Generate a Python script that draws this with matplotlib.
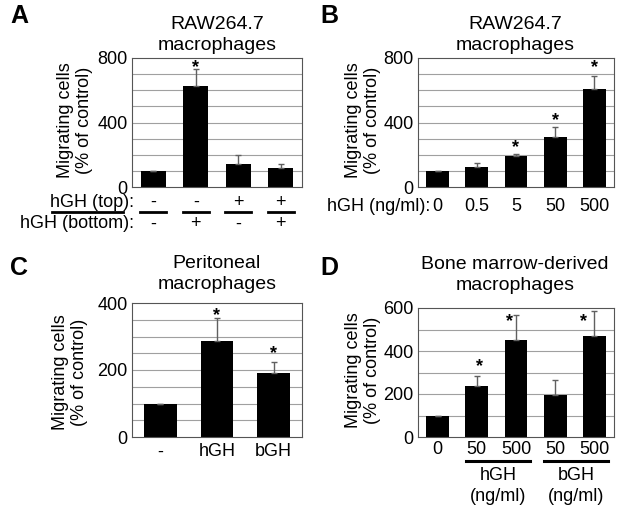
import numpy as np
import matplotlib
matplotlib.use('Agg')
import matplotlib.pyplot as plt
from matplotlib.transforms import blended_transform_factory

plt.rcParams['font.family'] = ['Liberation Sans', 'DejaVu Sans']

# A: RAW264.7, hGH top / bottom chamber
a_mean = [100, 625, 140, 120]
a_err = [0, 105, 60, 25]
a_star = [False, True, False, False]
a_top = ['-', '-', '+', '+']
a_bottom = ['-', '+', '-', '+']

# B: RAW264.7 dose response
b_dose = ['0', '0.5', '5', '50', '500']
b_mean = [100, 125, 195, 310, 605]
b_err = [0, 25, 10, 60, 85]
b_star = [False, False, True, True, True]

# C: peritoneal macrophages
c_labels = ['-', 'hGH', 'bGH']
c_mean = [100, 288, 190]
c_err = [0, 67, 34]
c_star = [False, True, True]

# D: bone marrow-derived macrophages
d_dose = ['0', '50', '500', '50', '500']
d_mean = [100, 235, 450, 195, 470]
d_err = [0, 50, 117, 70, 116]
d_star = [False, True, True, False, True]
d_groups = ['hGH\n(ng/ml)', 'bGH\n(ng/ml)']

W, H = 624, 517
fig = plt.figure(figsize=(W / 100, H / 100), dpi=100)


def fy(ypx):
    return 1 - ypx / H


def box(l, t, r, b):
    return fig.add_axes([l / W, 1 - b / H, (r - l) / W, (b - t) / H])


def panel(ax, mean, err, stars, ymax, step, ticks, star_dx=None, star_dy=None):
    n = len(mean)
    x = np.arange(n)
    for g in np.arange(step, ymax, step):
        ax.axhline(g, color='#a0a0a0', lw=0.8, zorder=0)
    ax.bar(x, mean, width=0.58, color='black', zorder=2)
    ax.errorbar(x, mean, yerr=[np.zeros(n), err], fmt='none', ecolor='#606060',
                elinewidth=1, capsize=2, capthick=1, zorder=3)
    for i in range(n):
        if stars[i]:
            dx = star_dx[i] if star_dx else 0
            dy = star_dy[i] if star_dy else 4
            ax.annotate('*', (x[i], mean[i] + err[i]), xytext=(dx, dy),
                        textcoords='offset points', ha='center', va='center',
                        fontsize=13, fontweight='bold')
    ax.set_xlim(-0.5, n - 0.5)
    ax.set_ylim(0, ymax)
    ax.set_yticks(ticks)
    ax.set_xticks([])
    ax.tick_params(axis='y', length=0, pad=3, labelsize=13)
    for s in ax.spines.values():
        s.set_color('#555555')
        s.set_linewidth(0.8)
    return blended_transform_factory(ax.transData, fig.transFigure)


def ylab(xpx, ypx):
    fig.text(xpx / W, fy(ypx), 'Migrating cells\n(% of control)', rotation=90,
             ha='center', va='center', fontsize=13)


def title(xpx, ypx, s):
    fig.text(xpx / W, fy(ypx), s, ha='center', va='center', fontsize=14,
             linespacing=1.25)


def letter(xpx, ypx, s):
    fig.text(xpx / W, fy(ypx), s, ha='left', va='center', fontsize=18,
             fontweight='bold')


# Panel A
axA = box(132, 58, 302, 187)
tr = panel(axA, a_mean, a_err, a_star, 800, 100, [0, 400, 800],
           star_dy=[0, 1.5, 0, 0])
for i in range(len(a_mean)):
    axA.text(i, fy(202), a_top[i], transform=tr, ha='center', va='center', fontsize=13)
    axA.text(i, fy(224), a_bottom[i], transform=tr, ha='center', va='center', fontsize=13)
    axA.plot([i - 0.31, i + 0.31], [fy(212), fy(212)], transform=tr, color='black',
             lw=2, clip_on=False)
axA.plot([-2.38, -0.71], [fy(212), fy(212)], transform=tr, color='black', lw=2,
         clip_on=False)
axA.text(-0.46, fy(202), 'hGH (top):', transform=tr, ha='right', va='center', fontsize=13)
axA.text(-0.46, fy(224), 'hGH (bottom):', transform=tr, ha='right', va='center', fontsize=13)
ylab(75, 120)
title(217, 35, 'RAW264.7\nmacrophages')
letter(10, 16, 'A')

# Panel B
axB = box(418, 58, 614, 187)
tr = panel(axB, b_mean, b_err, b_star, 800, 100, [0, 400, 800],
           star_dy=[0, 0, 4.5, 5, 6])
for i in range(len(b_mean)):
    axB.text(i, fy(207), b_dose[i], transform=tr, ha='center', va='center', fontsize=13)
axB.text(-0.2, fy(207), 'hGH (ng/ml):', transform=tr, ha='right', va='center', fontsize=13)
ylab(363, 120)
title(515, 35, 'RAW264.7\nmacrophages')
letter(320, 16, 'B')

# Panel C
axC = box(132, 303, 302, 437)
tr = panel(axC, c_mean, c_err, c_star, 400, 50, [0, 200, 400],
           star_dy=[0, 1.5, 6])
for i in range(len(c_mean)):
    axC.text(i, fy(452), c_labels[i], transform=tr, ha='center', va='center', fontsize=13)
ylab(70, 372)
title(217, 274, 'Peritoneal\nmacrophages')
letter(10, 268, 'C')

# Panel D
axD = box(418, 308, 614, 437)
tr = panel(axD, d_mean, d_err, d_star, 600, 100, [0, 200, 400, 600],
           star_dx=[0, 2, -5, 0, -8], star_dy=[0, 6.5, -4.5, 0, -7.5])
for i in range(len(d_mean)):
    axD.text(i, fy(450), d_dose[i], transform=tr, ha='center', va='center', fontsize=13)
for k, (x0, x1) in enumerate([(0.72, 2.36), (2.71, 4.35)]):
    axD.plot([x0, x1], [fy(461), fy(461)], transform=tr, color='black', lw=2.2,
             clip_on=False)
    axD.text((x0 + x1) / 2, fy(486), d_groups[k], transform=tr, ha='center',
             va='center', fontsize=13, linespacing=1.25)
ylab(363, 370)
title(515, 275, 'Bone marrow-derived\nmacrophages')
letter(320, 268, 'D')

fig.savefig('out.png', dpi=100)
